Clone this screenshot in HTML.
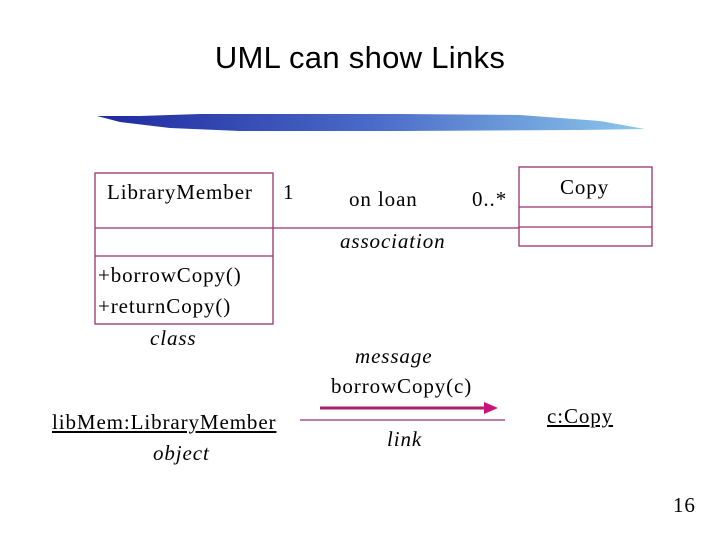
<!DOCTYPE html>
<html><head><meta charset="utf-8"><style>
html,body{margin:0;padding:0;background:#fff}
body{width:720px;height:540px;position:relative;overflow:hidden;font-family:"Liberation Serif",serif;color:#000}
.t{position:absolute;white-space:nowrap;font-size:21px;line-height:1;letter-spacing:0.9px}
.i{font-style:italic}
.u{text-decoration:underline}
</style></head><body>
<div class="t" style="left:0;width:720px;text-align:center;top:42px;font-family:'Liberation Sans',sans-serif;font-size:31px;letter-spacing:0.3px">UML can show Links</div>
<svg width="720" height="540" style="position:absolute;left:0;top:0">
<defs><linearGradient id="g" x1="0" x2="1"><stop offset="0" stop-color="#1e2a9e"/><stop offset="0.5" stop-color="#4a6ac8"/><stop offset="1" stop-color="#8cc8ea"/></linearGradient></defs>
<path d="M97,116 L140,116 L200,114 L400,114 L520,115 L600,121 L645,129 L580,130 L400,131 L240,131 L170,128 L120,122 Z" fill="url(#g)"/>
<g fill="none" stroke="#99336a" stroke-width="1.3">
<rect x="95" y="173" width="178" height="151"/>
<line x1="95" y1="228" x2="273" y2="228"/>
<line x1="95" y1="256" x2="273" y2="256"/>
<rect x="519" y="167" width="133" height="79"/>
<line x1="519" y1="207" x2="652" y2="207"/>
<line x1="519" y1="227" x2="652" y2="227"/>
<line x1="273" y1="228" x2="519" y2="228"/>
<line x1="300" y1="420" x2="505" y2="420"/>
</g>
<line x1="320" y1="408" x2="486" y2="408" stroke="#b0206a" stroke-width="3"/>
<polygon points="484,402 498,408 484,414" fill="#cc1177"/>
</svg>
<div class="t" style="left:107px;top:182px">LibraryMember</div>
<div class="t" style="left:283px;top:182px">1</div>
<div class="t" style="left:349px;top:189px">on loan</div>
<div class="t" style="left:472px;top:189px">0..*</div>
<div class="t" style="left:560px;top:177px">Copy</div>
<div class="t i" style="left:340px;top:231px">association</div>
<div class="t" style="left:98px;top:265px">+borrowCopy()</div>
<div class="t" style="left:98px;top:296px">+returnCopy()</div>
<div class="t i" style="left:150px;top:328px">class</div>
<div class="t i" style="left:355px;top:346px">message</div>
<div class="t" style="left:331px;top:376px">borrowCopy(c)</div>
<div class="t u" style="left:52px;top:412px">libMem:LibraryMember</div>
<div class="t i" style="left:153px;top:443px">object</div>
<div class="t i" style="left:387px;top:429px">link</div>
<div class="t u" style="left:547px;top:406px">c:Copy</div>
<div class="t" style="left:673px;top:495px">16</div>
</body></html>
